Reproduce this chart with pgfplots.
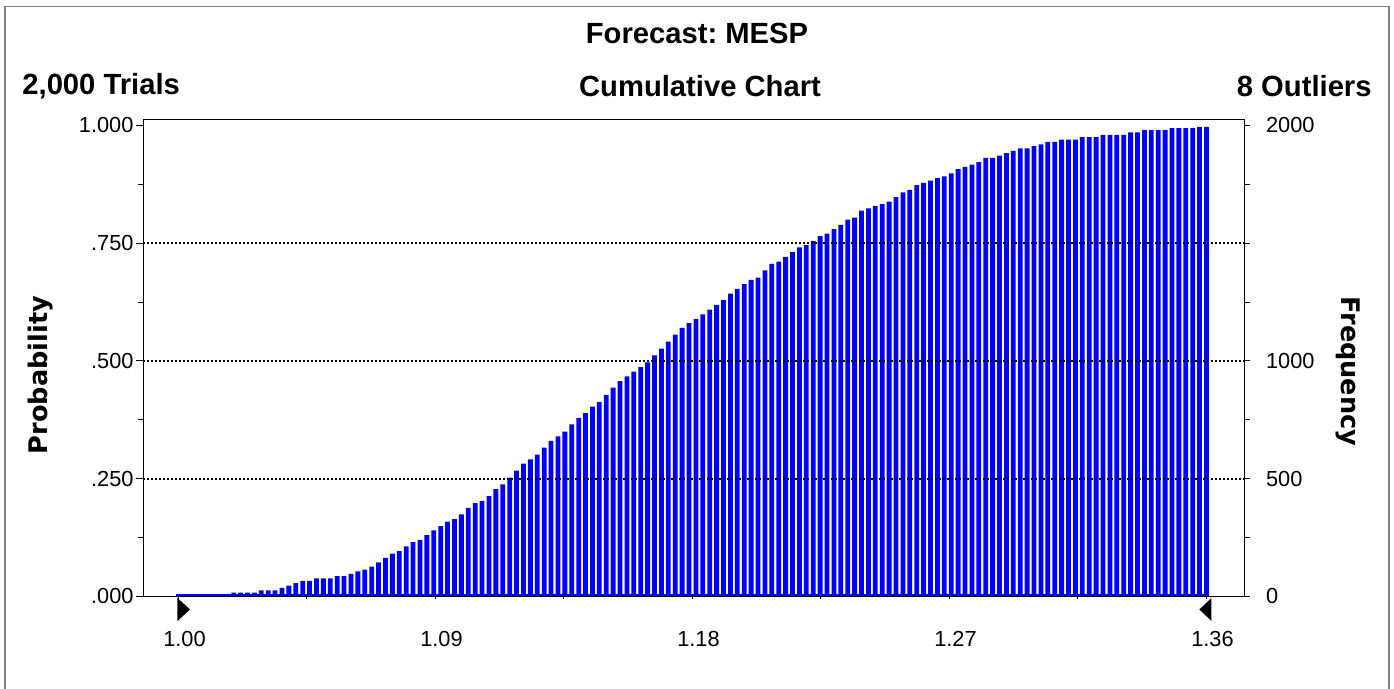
\documentclass[border=0pt]{standalone}
\usepackage{fontspec}
\setmainfont{Liberation Sans}
\newfontfamily\dejavu{DejaVu Sans}
\usepackage{pgfplots}
\pgfplotsset{compat=1.18}
\frenchspacing

% 1 px of the reference = 0.5pt; axis box 1101 x 477 px
\def\axw{550.5pt}
\def\axh{238.55pt}

\begin{document}
\begin{tikzpicture}
\path[use as bounding box] (-71.65pt,-46.3pt) rectangle (625.35pt,298.2pt);

\begin{axis}[
    at={(0,0)}, anchor=south west,
    scale only axis, width=\axw, height=\axh,
    xmin=-5.10, xmax=154.48,
    ymin=0, ymax=1.013,
    clip=false,
    axis on top,
    axis line style={black, line width=0.55pt},
    tick style={black, line width=0.5pt},
    tick align=outside,
    xtick pos=bottom, ytick pos=left,
    major tick length=3.5pt,
    minor tick length=2.5pt,
    xtick=\empty,
    extra x ticks={0,18.625,37.25,55.875,74.5,93.125,111.75,130.375,149},
    extra x tick labels={1.00,,1.09,,1.18,,1.27,,1.36},
    extra x tick style={major tick length=1.5pt,
        xticklabel style={anchor=north, inner sep=0pt, yshift=-15.5pt, xshift=3pt}},
    ytick={0,0.25,0.5,0.75,1},
    yticklabels={.000,.250,.500,.750,1.000},
    minor ytick={0.125,0.375,0.625,0.875},
    extra y ticks={0.25,0.5,0.75},
    extra y tick labels={},
    extra y tick style={grid=major, major tick length=0pt},
    grid style={black, line width=1.1pt, dash pattern=on 0.7pt off 1.3pt},
    yticklabel style={anchor=east, inner sep=0pt, xshift=-1.2pt},
    ticklabel style={font=\fontsize{10.9}{12}\selectfont},
]
% cumulative probability per bin (150 bins, 1.00 .. 1.36)
\addplot[ybar, bar width=2.4pt, fill=blue, draw=none] coordinates {
(0,0) (1,0) (2,0) (3,0) (4,0) (5,0) (6,0) (7,0) (8,.008) (9,.008)
(10,.008) (11,.008) (12,.013) (13,.013) (14,.013) (15,.018) (16,.023) (17,.028) (18,.033) (19,.033)
(20,.038) (21,.038) (22,.038) (23,.043) (24,.043) (25,.048) (26,.053) (27,.057) (28,.063) (29,.072)
(30,.082) (31,.091) (32,.096) (33,.106) (34,.115) (35,.120) (36,.130) (37,.140) (38,.149) (39,.159)
(40,.164) (41,.174) (42,.188) (43,.198) (44,.203) (45,.213) (46,.228) (47,.238) (48,.252) (49,.267)
(50,.282) (51,.291) (52,.301) (53,.316) (54,.330) (55,.340) (56,.350) (57,.365) (58,.379) (59,.389)
(60,.403) (61,.413) (62,.428) (63,.443) (64,.457) (65,.467) (66,.477) (67,.487) (68,.497) (69,.512)
(70,.526) (71,.541) (72,.556) (73,.570) (74,.580) (75,.589) (76,.599) (77,.609) (78,.619) (79,.629)
(80,.643) (81,.653) (82,.663) (83,.672) (84,.677) (85,.692) (86,.706) (87,.711) (88,.721) (89,.731)
(90,.741) (91,.746) (92,.755) (93,.765) (94,.770) (95,.780) (96,.789) (97,.800) (98,.804) (99,.819)
(100,.824) (101,.829) (102,.833) (103,.838) (104,.848) (105,.858) (106,.863) (107,.873) (108,.878) (109,.883)
(110,.888) (111,.892) (112,.898) (113,.907) (114,.912) (115,.917) (116,.922) (117,.931) (118,.931) (119,.936)
(120,.941) (121,.946) (122,.951) (123,.951) (124,.956) (125,.960) (126,.965) (127,.965) (128,.970) (129,.970)
(130,.970) (131,.975) (132,.975) (133,.975) (134,.980) (135,.980) (136,.980) (137,.980) (138,.985) (139,.985)
(140,.990) (141,.990) (142,.990) (143,.990) (144,.994) (145,.994) (146,.994) (147,.994) (148,.997) (149,.997)
};
% baseline under the empty bins
\addplot[blue, line width=1pt] coordinates {(-0.34,0.0021) (149.34,0.0021)};
% range markers
\addplot[fill=black, draw=none] coordinates {(-0.145,-0.0034) (-0.145,-0.0522) (1.667,-0.0278)};
\addplot[fill=black, draw=none] coordinates {(149.72,-0.0034) (149.72,-0.0522) (147.97,-0.0278)};
\end{axis}

% frequency axis on the right
\begin{axis}[
    at={(0,0)}, anchor=south west,
    scale only axis, width=\axw, height=\axh,
    xmin=-5.10, xmax=154.48,
    ymin=0, ymax=2026,
    axis x line=none,
    axis y line*=right,
    axis line style={black, line width=0.55pt},
    tick style={black, line width=0.5pt},
    tick align=outside,
    major tick length=3pt,
    minor tick length=3pt,
    ytick={0,500,1000,2000},
    yticklabels={0,500,1000,2000},
    minor ytick={250,750,1250,1500,1750},
    yticklabel style={anchor=west, inner sep=0pt, xshift=7.7pt,
        font=\fontsize{10.9}{12}\selectfont},
]
\end{axis}

\draw[gray, line width=0.9pt] (-69.15pt,-46.3pt) -- (-69.15pt,294.95pt)
    -- (622.85pt,294.95pt) -- (622.85pt,-46.3pt);

\begin{scope}[every node/.style={inner sep=0pt, font=\bfseries\fontsize{14.6}{16}\selectfont}]
\node at (276.85pt,281.7pt) {Forecast: MESP};
\node[anchor=west] at (-60.65pt,255.2pt) {2,000 Trials};
\node at (278.35pt,255.2pt) {Cumulative Chart};
\node[anchor=east] at (614.35pt,255.2pt) {8 Outliers};
\end{scope}

\node[rotate=90, inner sep=0pt, font=\dejavu\bfseries\fontsize{12.8}{14}\selectfont]
    at (-51.4pt,110.7pt) {Probability};
\node[rotate=-90, inner sep=0pt, font=\dejavu\bfseries\fontsize{12.8}{14}\selectfont]
    at (602.35pt,112.45pt) {Frequency};
\end{tikzpicture}
\end{document}
